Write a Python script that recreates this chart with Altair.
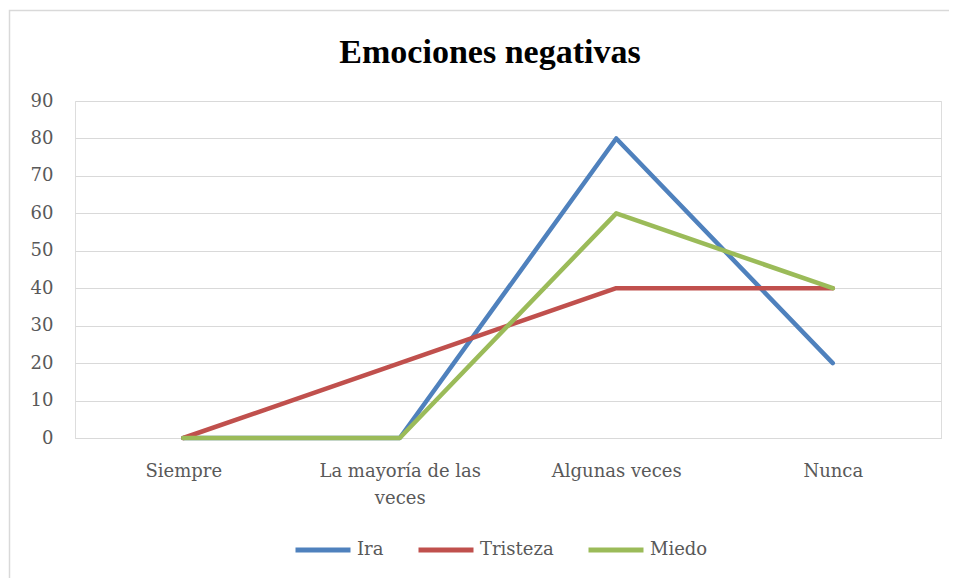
import altair as alt
import pandas as pd

categories = ["Siempre", "La mayoría de las veces", "Algunas veces", "Nunca"]
ira = [0, 0, 80, 20]
tristeza = [0, 20, 40, 40]
miedo = [0, 0, 60, 40]
series_names = ["Ira", "Tristeza", "Miedo"]
colors = ["#4F81BD", "#C0504D", "#9BBB59"]

rows = []
for name, vals in zip(series_names, [ira, tristeza, miedo]):
    for i, (c, v) in enumerate(zip(categories, vals)):
        rows.append({"cat": c, "value": v, "serie": name, "order": series_names.index(name)})
df = pd.DataFrame(rows)

FONT = "DejaVu Serif"
W, H = 866, 337
PL, PT = 67, 93

lines = alt.Chart(df).mark_line(strokeWidth=4.5, strokeCap="round", strokeJoin="round").encode(
    x=alt.X("cat:N", sort=categories, title=None,
            scale=alt.Scale(paddingInner=0, paddingOuter=0),
            axis=alt.Axis(labelAngle=0, ticks=False, domainColor="#D9D9D9", domainWidth=1,
                          labelColor="#595959", labelFont=FONT, labelFontSize=18,
                          labelPadding=24, labelLineHeight=27,
                          labelExpr="datum.label == 'La mayoría de las veces' ? ['La mayoría de las', 'veces'] : datum.label")),
    y=alt.Y("value:Q", title=None,
            scale=alt.Scale(domain=[0, 90], nice=False),
            axis=alt.Axis(values=list(range(0, 91, 10)), ticks=False, domain=False,
                          gridColor="#D9D9D9", gridWidth=1.2,
                          labelColor="#595959", labelFont=FONT, labelFontSize=18,
                          labelPadding=22)),
    color=alt.Color("serie:N", sort=series_names,
                    scale=alt.Scale(domain=series_names, range=colors),
                    legend=alt.Legend(title=None, orient="none", direction="horizontal",
                                      legendX=218, legendY=H + 82,
                                      symbolType="stroke", symbolSize=3025, symbolStrokeWidth=5,
                                      labelFont=FONT, labelFontSize=18, labelColor="#595959",
                                      labelOffset=4, columnPadding=24)),
    order=alt.Order("order:Q"),
    detail="serie:N",
)

border = alt.Chart(pd.DataFrame({"a": [0]})).mark_rect(
    fill=None, stroke="#D9D9D9", strokeWidth=1.5, clip=False
).encode(
    x=alt.value(-PL + 1.5), x2=alt.value(W + 40),
    y=alt.value(-PT + 2.5), y2=alt.value(H + 200),
)

chart = alt.layer(border, lines).properties(
    width=W, height=H,
    padding={"left": PL, "top": PT, "right": 8, "bottom": 140},
    autosize=alt.AutoSizeParams(type="none"),
    title=alt.Title("Emociones negativas", font="Liberation Serif", fontSize=34, fontWeight="bold",
                    color="#000000", anchor="middle", frame="group", offset=-60, dx=-18),
).configure_view(stroke=None).configure(background="white")

chart.save("out.html", embed_options={"renderer": "svg", "actions": False})
